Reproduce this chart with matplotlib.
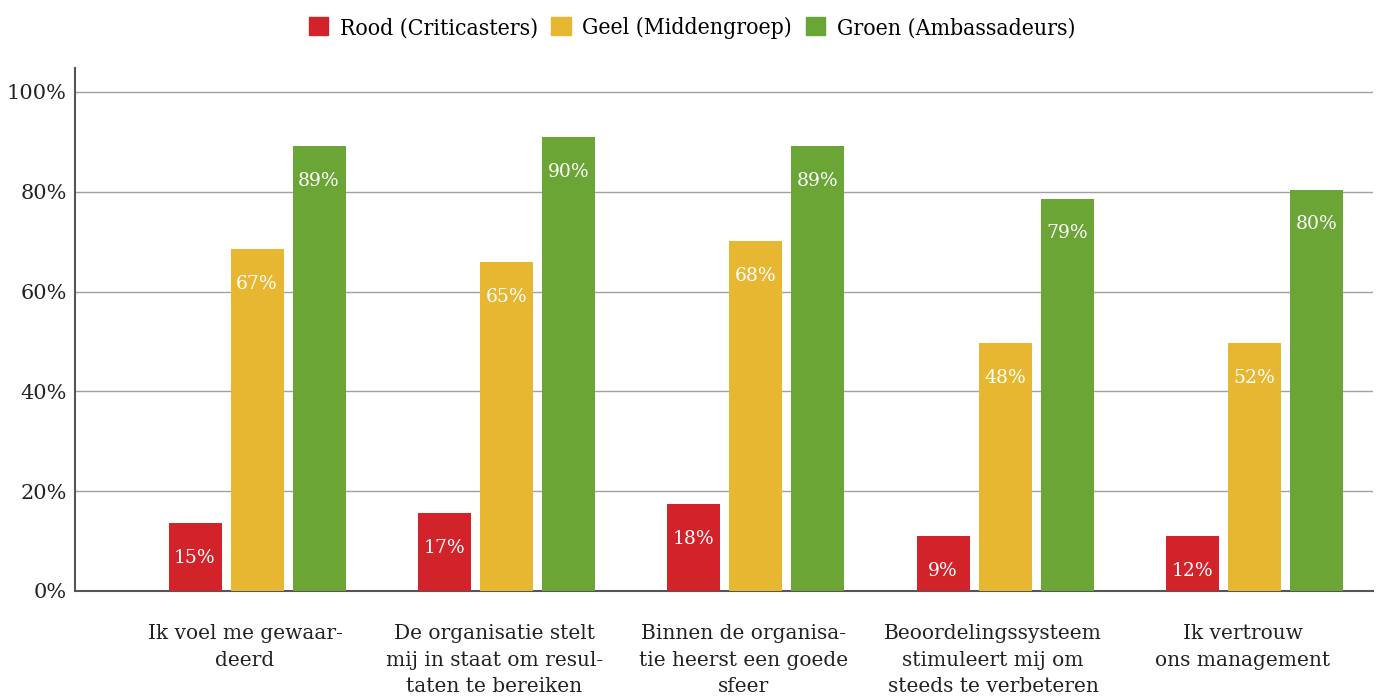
import matplotlib
matplotlib.use('Agg')
import matplotlib.pyplot as plt
import numpy as np
from matplotlib.patches import Patch

categories = ['Ik voel me gewaar-\ndeerd',
              'De organisatie stelt\nmij in staat om resul-\ntaten te bereiken',
              'Binnen de organisa-\ntie heerst een goede\nsfeer',
              'Beoordelingssysteem\nstimuleert mij om\nsteeds te verbeteren',
              'Ik vertrouw\nons management']
series_names = ['Rood (Criticasters)', 'Geel (Middengroep)', 'Groen (Ambassadeurs)']
# bar heights as drawn
rood = [13.6, 15.6, 17.4, 11.0, 11.0]
geel = [68.5, 65.9, 70.1, 49.7, 49.7]
groen = [89.2, 91.0, 89.2, 78.6, 80.4]
# printed labels
rood_lbl = [15, 17, 18, 9, 12]
geel_lbl = [67, 65, 68, 48, 52]
groen_lbl = [89, 90, 89, 79, 80]

colors = ['#D2232A', '#E8B731', '#6BA536']
serif = 'DejaVu Serif'

fig = plt.figure(figsize=(13.79, 7.0), dpi=100)
ax = fig.add_axes([75/1379, 1-591/700, 1298/1379, 523/700])

x = np.arange(len(categories))
width = 0.2125
step = 0.2486
for k, (vals, lbls) in enumerate([(rood, rood_lbl), (geel, geel_lbl), (groen, groen_lbl)]):
    pos = x + (k-1)*step
    ax.bar(pos, vals, width, color=colors[k], zorder=3)
    for p, v, l in zip(pos, vals, lbls):
        ax.annotate('%d%%' % l, (p, v), xytext=(0, -25), textcoords='offset points',
                    ha='center', va='center', color='white', fontsize=13.5, family=serif, zorder=4)

ax.set_xlim(-0.73, 4.475)
ax.set_ylim(0, 104.8)
ax.set_yticks([0, 20, 40, 60, 80, 100])
ax.set_yticklabels(['0%', '20%', '40%', '60%', '80%', '100%'], family=serif, fontsize=15, color='#222222')
ax.set_xticks(x - 0.048)
ax.set_xticklabels(categories, family=serif, fontsize=14.5, color='#222222', linespacing=1.5)
ax.tick_params(axis='x', length=0, pad=24)
ax.tick_params(axis='y', length=0, pad=6)
ax.yaxis.grid(True, color='#A0A0A0', linewidth=1.0, zorder=0)
ax.set_axisbelow(True)
for s in ['top', 'right']:
    ax.spines[s].set_visible(False)
ax.spines['left'].set_color('#555555')
ax.spines['bottom'].set_color('#555555')
ax.spines['left'].set_linewidth(1.5)
ax.spines['bottom'].set_linewidth(1.5)

handles = [Patch(color=c) for c in colors]
fig.legend(handles, series_names, loc='center', bbox_to_anchor=(692/1379, 1-28/700), ncol=3,
           frameon=False, prop={'family': serif, 'stretch': 'condensed', 'size': 16.5},
           handlelength=0.85, handleheight=0.85, handletextpad=0.5, columnspacing=0.6)

fig.savefig('out.png', dpi=100)
